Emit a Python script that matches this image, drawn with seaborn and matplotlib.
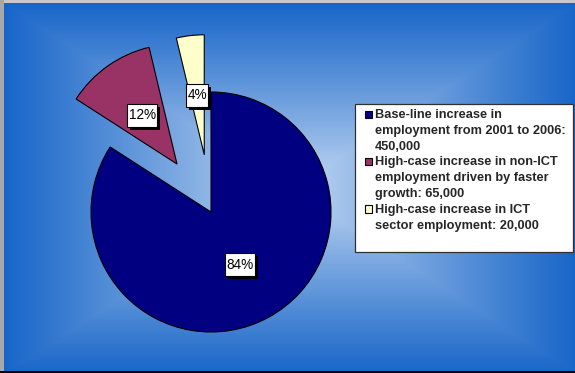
import numpy as np
import matplotlib
matplotlib.use("Agg")
import matplotlib.pyplot as plt
import seaborn as sns
from matplotlib.patches import Rectangle
from matplotlib.path import Path
from matplotlib.legend_handler import HandlerPatch
from matplotlib import patheffects as pe

# Employment increase components, 2001-2006
categories = [
    "Base-line increase in\nemployment from 2001 to 2006:\n450,000",
    "High-case increase in non-ICT\nemployment driven by faster\ngrowth: 65,000",
    "High-case increase in ICT\nsector employment: 20,000",
]
values = [450000, 65000, 20000]
colors = ["#000080", "#993366", "#FFFFCC"]
explode = [0.0, 0.49, 0.48]

sns.set_theme(style="white")
plt.rcParams["font.family"] = ["Liberation Sans", "DejaVu Sans"]

W, H = 575, 373
fig = plt.figure(figsize=(W / 100, H / 100), dpi=100)

# Rectangular centre-out gradient background
bg = fig.add_axes([0, 0, 1, 1])
bg.set_axis_off()
yy, xx = np.mgrid[0:H, 0:W]
cx, cy = 290, 188
t = np.maximum(np.abs(xx - cx) / 290.0, np.abs(yy - cy) / 188.0)
t = np.clip(t, 0, 1) ** 0.9
edge = np.array([22, 100, 200]) / 255.0
centre = np.array([200, 220, 244]) / 255.0
img = centre[None, None, :] * (1 - t[..., None]) + edge[None, None, :] * t[..., None]
bg.imshow(img, extent=(0, W, H, 0), aspect="auto", interpolation="bilinear")
bg.set_xlim(0, W)
bg.set_ylim(H, 0)
# frame lines
bg.add_patch(Rectangle((0, 0), W, 3, color="#c8c8c8", lw=0))
bg.add_patch(Rectangle((0, 0), 4, H, color="#a8a8a8", lw=0))
bg.add_patch(Rectangle((0, H - 2.5), W, 2.5, color="black", lw=0))

# Pie axes: unit radius = 120 px, centre at (211, 212) from top-left
ax = fig.add_axes([0, 0, 1, 1])
ax.patch.set_alpha(0)
wedges, texts, autotexts = ax.pie(
    values,
    colors=colors,
    explode=explode,
    startangle=90,
    counterclock=False,
    autopct="%.0f%%",
    pctdistance=0.5,
    wedgeprops=dict(edgecolor="black", linewidth=0.8),
    textprops=dict(fontsize=9.8, color="black"),
)
ax.set_aspect("auto")
r = 120.0
ax.set_xlim(-211 / r, (W - 211) / r)
ax.set_ylim(-(H - 212) / r, 212 / r)
ax.set_axis_off()


def label_box(x0, y0, width, height, mutation_size):
    """Square box, tight left/right, roomier top/bottom."""
    px, py = 0.1 * mutation_size, 0.33 * mutation_size
    x0, y0 = x0 - px, y0 - py
    x1, y1 = x0 + width + 2 * px, y0 + height + 2 * py
    return Path([(x0, y0), (x1, y0), (x1, y1), (x0, y1), (x0, y0)], closed=True)


for at in autotexts:
    at.set_bbox(dict(boxstyle=label_box, facecolor="white",
                     edgecolor="black", linewidth=0.8))
    at.get_bbox_patch().set_path_effects(
        [pe.SimplePatchShadow(offset=(2.2, -2.2), shadow_rgbFace="black", alpha=1.0),
         pe.Normal()]
    )

# Legend frame
bg.add_patch(Rectangle((355, 104), 218, 148, facecolor="white",
                       edgecolor="#303030", linewidth=0.9, zorder=5))


def square_marker(legend, orig_handle, xdescent, ydescent, width, height, fontsize):
    return Rectangle((-xdescent, -ydescent), width, width)


leg = ax.legend(
    wedges, categories,
    loc="upper left",
    bbox_to_anchor=(365 / W, 1 - 109 / H),
    frameon=False,
    prop=dict(size=9.15, weight="bold"),
    handlelength=0.58,
    handleheight=0.7,
    handletextpad=0.22,
    labelspacing=0.3,
    borderpad=0.0,
    borderaxespad=0.0,
    handler_map={w: HandlerPatch(patch_func=square_marker) for w in wedges},
)
for txt in leg.get_texts():
    txt.set_linespacing(1.42)
for col in leg._legend_handle_box.get_children():
    for row in col.get_children():
        row.align = "top"

fig.savefig("out.png", dpi=100)
